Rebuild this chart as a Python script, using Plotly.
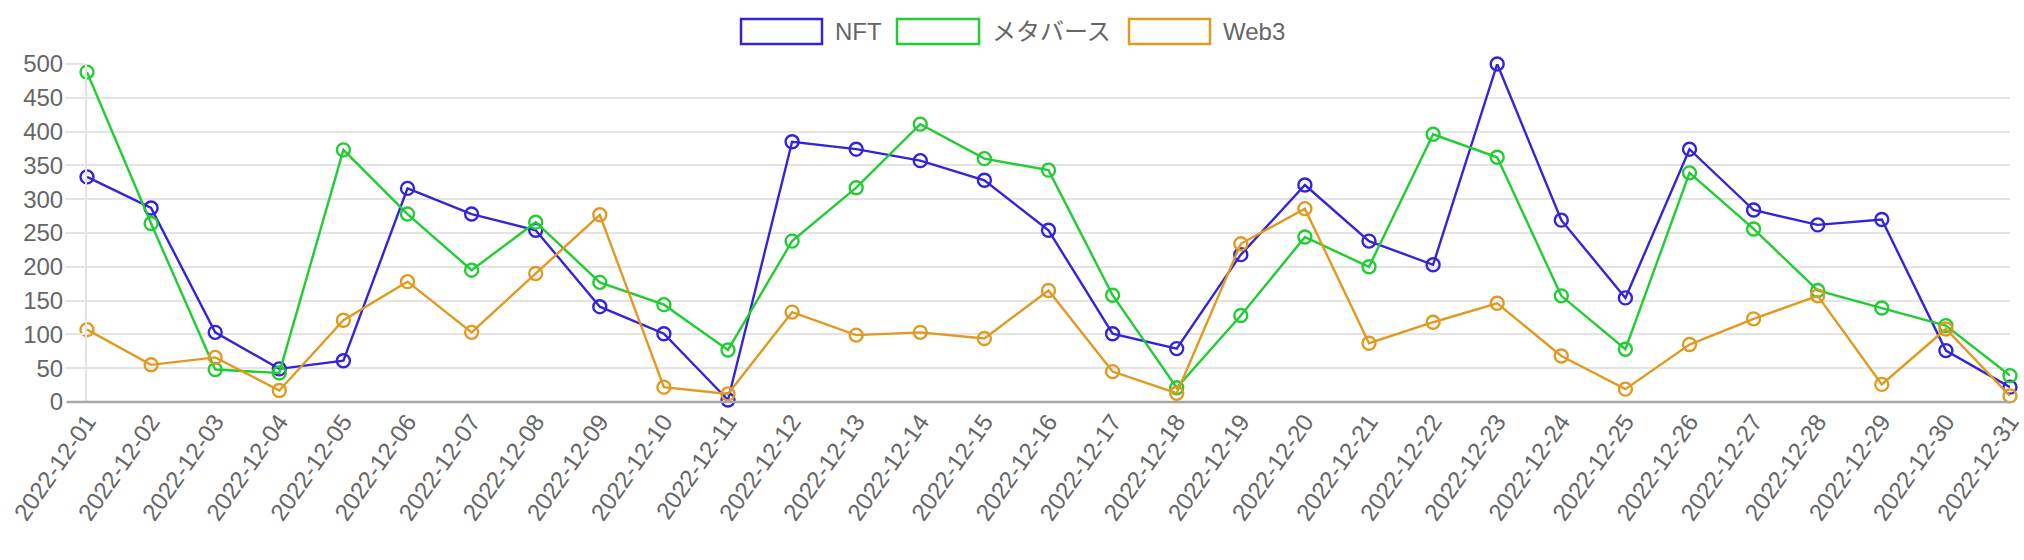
import plotly.graph_objects as go

# fechas del eje x
DATES = [
    "2022-12-01", "2022-12-02", "2022-12-03", "2022-12-04", "2022-12-05",
    "2022-12-06", "2022-12-07", "2022-12-08", "2022-12-09", "2022-12-10",
    "2022-12-11", "2022-12-12", "2022-12-13", "2022-12-14", "2022-12-15",
    "2022-12-16", "2022-12-17", "2022-12-18", "2022-12-19", "2022-12-20",
    "2022-12-21", "2022-12-22", "2022-12-23", "2022-12-24", "2022-12-25",
    "2022-12-26", "2022-12-27", "2022-12-28", "2022-12-29", "2022-12-30",
    "2022-12-31",
]

NFT = [333, 287, 103, 49, 61, 316, 278, 254, 141, 101,
       3, 385, 374, 357, 328, 254, 101, 79, 218, 321,
       238, 203, 500, 269, 154, 374, 284, 262, 270, 76, 22]

METAVERSE = [488, 264, 48, 43, 373, 278, 195, 266, 177, 144,
             77, 238, 317, 411, 360, 343, 158, 21, 128, 244,
             200, 396, 362, 157, 78, 339, 256, 165, 139, 113, 39]

WEB3 = [107, 55, 66, 17, 121, 178, 103, 190, 277, 22,
        12, 133, 99, 103, 94, 165, 45, 13, 234, 286,
        87, 118, 146, 68, 19, 85, 123, 157, 26, 108, 9]

SERIES = [
    ("NFT", NFT, "#3424d9"),
    ("メタバース", METAVERSE, "#22cc33"),
    ("Web3", WEB3, "#e09a22"),
]

FONT = "Liberation Sans, Arial, Noto Sans CJK JP, sans-serif"
TEXT_COLOR = "#666666"
GRID_COLOR = "#e4e4e4"

# área del gráfico en píxeles
W, H = 2024, 560
L, R, T, B = 87, 14, 64, 158
PW, PH = W - L - R, H - T - B


def px_x(px):
    return (px - L) / PW


def px_y(py):
    return 1 - (py - T) / PH


fig = go.Figure()

for name, values, color in SERIES:
    fig.add_trace(go.Scatter(
        x=DATES,
        y=values,
        name=name,
        mode="lines+markers",
        line=dict(color=color, width=2.4),
        marker=dict(symbol="circle-open", size=13, color=color,
                    line=dict(width=2.4, color=color)),
        cliponaxis=False,
        showlegend=False,
    ))

# leyenda estilo Chart.js (cajas + texto)
legend_boxes = [(741, 822), (897, 979), (1129, 1210)]
shapes = []
annotations = []
for (x0, x1), (name, _, color) in zip(legend_boxes, SERIES):
    shapes.append(dict(
        type="rect", xref="paper", yref="paper",
        x0=px_x(x0), x1=px_x(x1), y0=px_y(44), y1=px_y(19),
        line=dict(color=color, width=2.5), fillcolor="white",
    ))
    annotations.append(dict(
        text=name, xref="paper", yref="paper",
        x=px_x(x1 + 11), y=px_y(31.5),
        xanchor="left", yanchor="middle", showarrow=False,
        font=dict(family=FONT, size=24, color=TEXT_COLOR),
    ))

# línea base gris que se prolonga hasta la marca del 0
shapes.append(dict(
    type="line", xref="paper", yref="paper",
    x0=px_x(67), x1=1, y0=0, y1=0,
    line=dict(color="#a8a8a8", width=2.5),
))

fig.update_layout(
    width=W,
    height=H,
    margin=dict(l=L, r=R, t=T, b=B, autoexpand=False),
    paper_bgcolor="white",
    plot_bgcolor="white",
    font=dict(family=FONT, size=24, color=TEXT_COLOR),
    shapes=shapes,
    annotations=annotations,
    xaxis=dict(
        type="category",
        range=[0, len(DATES) - 1],
        automargin=False,
        showgrid=False,
        showline=False,
        ticks="",
        tickangle=-55,
        tickfont=dict(size=24, color=TEXT_COLOR),
        zeroline=False,
    ),
    yaxis=dict(
        range=[0, 500],
        dtick=50,
        automargin=False,
        showgrid=True,
        gridcolor=GRID_COLOR,
        gridwidth=2,
        showline=True,
        linecolor=GRID_COLOR,
        linewidth=2,
        ticks="outside",
        ticklen=20,
        tickwidth=2,
        tickcolor=GRID_COLOR,
        ticklabelstandoff=-3,
        tickfont=dict(size=24, color=TEXT_COLOR),
        zeroline=False,
    ),
)

fig.write_html(
    "out.html",
    config={"displayModeBar": False},
    post_script="document.body.style.margin='0';",
)
